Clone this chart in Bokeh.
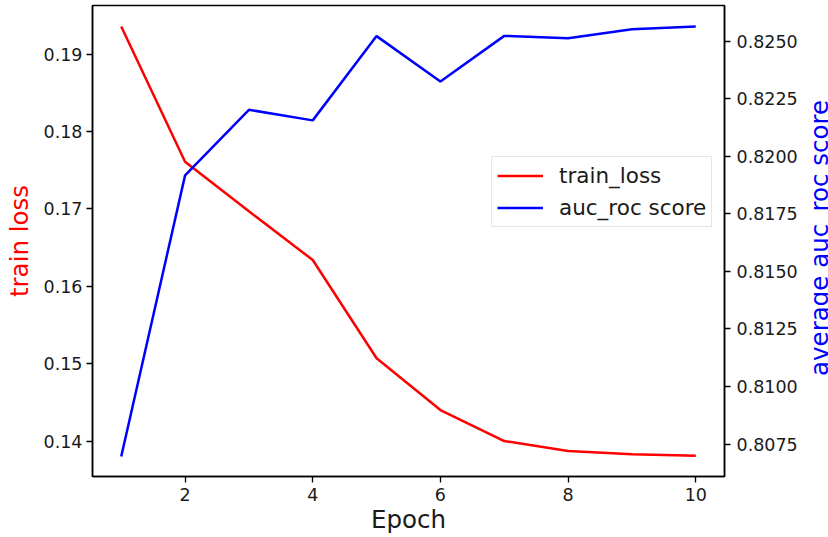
import math
from bokeh.plotting import figure
from bokeh.layouts import row
from bokeh.models import Range1d, LinearAxis, FixedTicker, Legend, LegendItem, NumeralTickFormatter, Label
from bokeh.embed import file_html
from bokeh.resources import INLINE

epochs = [1, 2, 3, 4, 5, 6, 7, 8, 9, 10]
train_loss = [0.1936, 0.1761, 0.1697, 0.1634, 0.1507, 0.1440, 0.1400, 0.1387, 0.1383, 0.1381]
auc_roc = [0.80696, 0.81917, 0.82202, 0.82156, 0.82522, 0.82325, 0.82523, 0.82513, 0.82552, 0.82564]
x_ticks = [2, 4, 6, 8, 10]
loss_ticks = [0.14, 0.15, 0.16, 0.17, 0.18, 0.19]
auc_ticks = [0.8075, 0.8100, 0.8125, 0.8150, 0.8175, 0.8200, 0.8225, 0.8250]

FONT = "DejaVu Sans"

p = figure(width=808, height=537, output_backend="svg", toolbar_location=None,
           x_range=Range1d(0.55, 10.45), y_range=Range1d(0.13541, 0.19631),
           min_border_left=92, min_border_right=84, min_border_top=5, min_border_bottom=61)
p.extra_y_ranges = {"auc": Range1d(0.80609, 0.82655)}

p.grid.visible = False
p.outline_line_color = "black"
p.outline_line_width = 1.5
p.background_fill_color = "white"
p.border_fill_color = "white"

r1 = p.line(epochs, train_loss, line_color="#ff0000", line_width=2.5)
r2 = p.line(epochs, auc_roc, line_color="#0000ff", line_width=2.5, y_range_name="auc")

right = LinearAxis(y_range_name="auc")
p.add_layout(right, "right")

p.xaxis.ticker = FixedTicker(ticks=x_ticks)
p.yaxis[0].ticker = FixedTicker(ticks=loss_ticks)
p.yaxis[0].formatter = NumeralTickFormatter(format="0.00")
right.ticker = FixedTicker(ticks=auc_ticks)
right.formatter = NumeralTickFormatter(format="0.0000")

p.xaxis.axis_label = "Epoch"
p.yaxis[0].axis_label = "train loss"
p.yaxis[0].axis_label_text_color = "#ff0000"

for ax in [p.xaxis[0], p.yaxis[0], right]:
    ax.minor_tick_line_color = None
    ax.major_tick_in = 0
    ax.major_tick_out = 6
    ax.major_tick_line_width = 1.3
    ax.major_tick_line_color = "black"
    ax.axis_line_color = "black"
    ax.axis_line_width = 1.5
    ax.major_label_text_font = FONT
    ax.major_label_text_font_size = "17.5px"
    ax.major_label_text_color = "#1a1a1a"
    ax.axis_label_text_font = FONT
    ax.axis_label_text_font_size = "24.5px"
    ax.axis_label_text_font_style = "normal"
p.xaxis[0].axis_label_text_color = "#1a1a1a"
p.xaxis[0].major_label_standoff = 5
p.xaxis[0].axis_label_standoff = 1
p.yaxis[0].major_label_standoff = 4
p.yaxis[0].axis_label_standoff = 7
right.major_label_standoff = 6

legend = Legend(items=[LegendItem(label="train_loss", renderers=[r1]),
                       LegendItem(label="auc_roc score", renderers=[r2])],
                location=(399, 249))
legend.label_text_font = FONT
legend.label_text_font_size = "21.5px"
legend.label_text_color = "#1a1a1a"
legend.glyph_width = 46
legend.glyph_height = 27
legend.label_height = 27
legend.label_standoff = 16
legend.spacing = 5
legend.padding = 5
legend.margin = 0
legend.border_line_color = "#cccccc"
legend.border_line_width = 1
legend.background_fill_color = "white"
legend.background_fill_alpha = 0.8
p.add_layout(legend, "center")

# narrow strip holding the right-hand axis title (reads bottom-to-top)
side = figure(width=20, height=537, output_backend="svg", toolbar_location=None,
              x_range=Range1d(0, 20), y_range=Range1d(0, 537),
              x_axis_location=None, y_axis_location=None,
              min_border=0, outline_line_color=None)
side.grid.visible = False
side.add_layout(Label(x=10.5, y=272, text="average auc_roc score", angle=math.pi / 2,
                      text_align="center", text_baseline="alphabetic",
                      text_font=FONT, text_font_size="24.5px", text_color="#0000ff"))

open("out.html", "w").write(file_html(row(p, side), INLINE))
